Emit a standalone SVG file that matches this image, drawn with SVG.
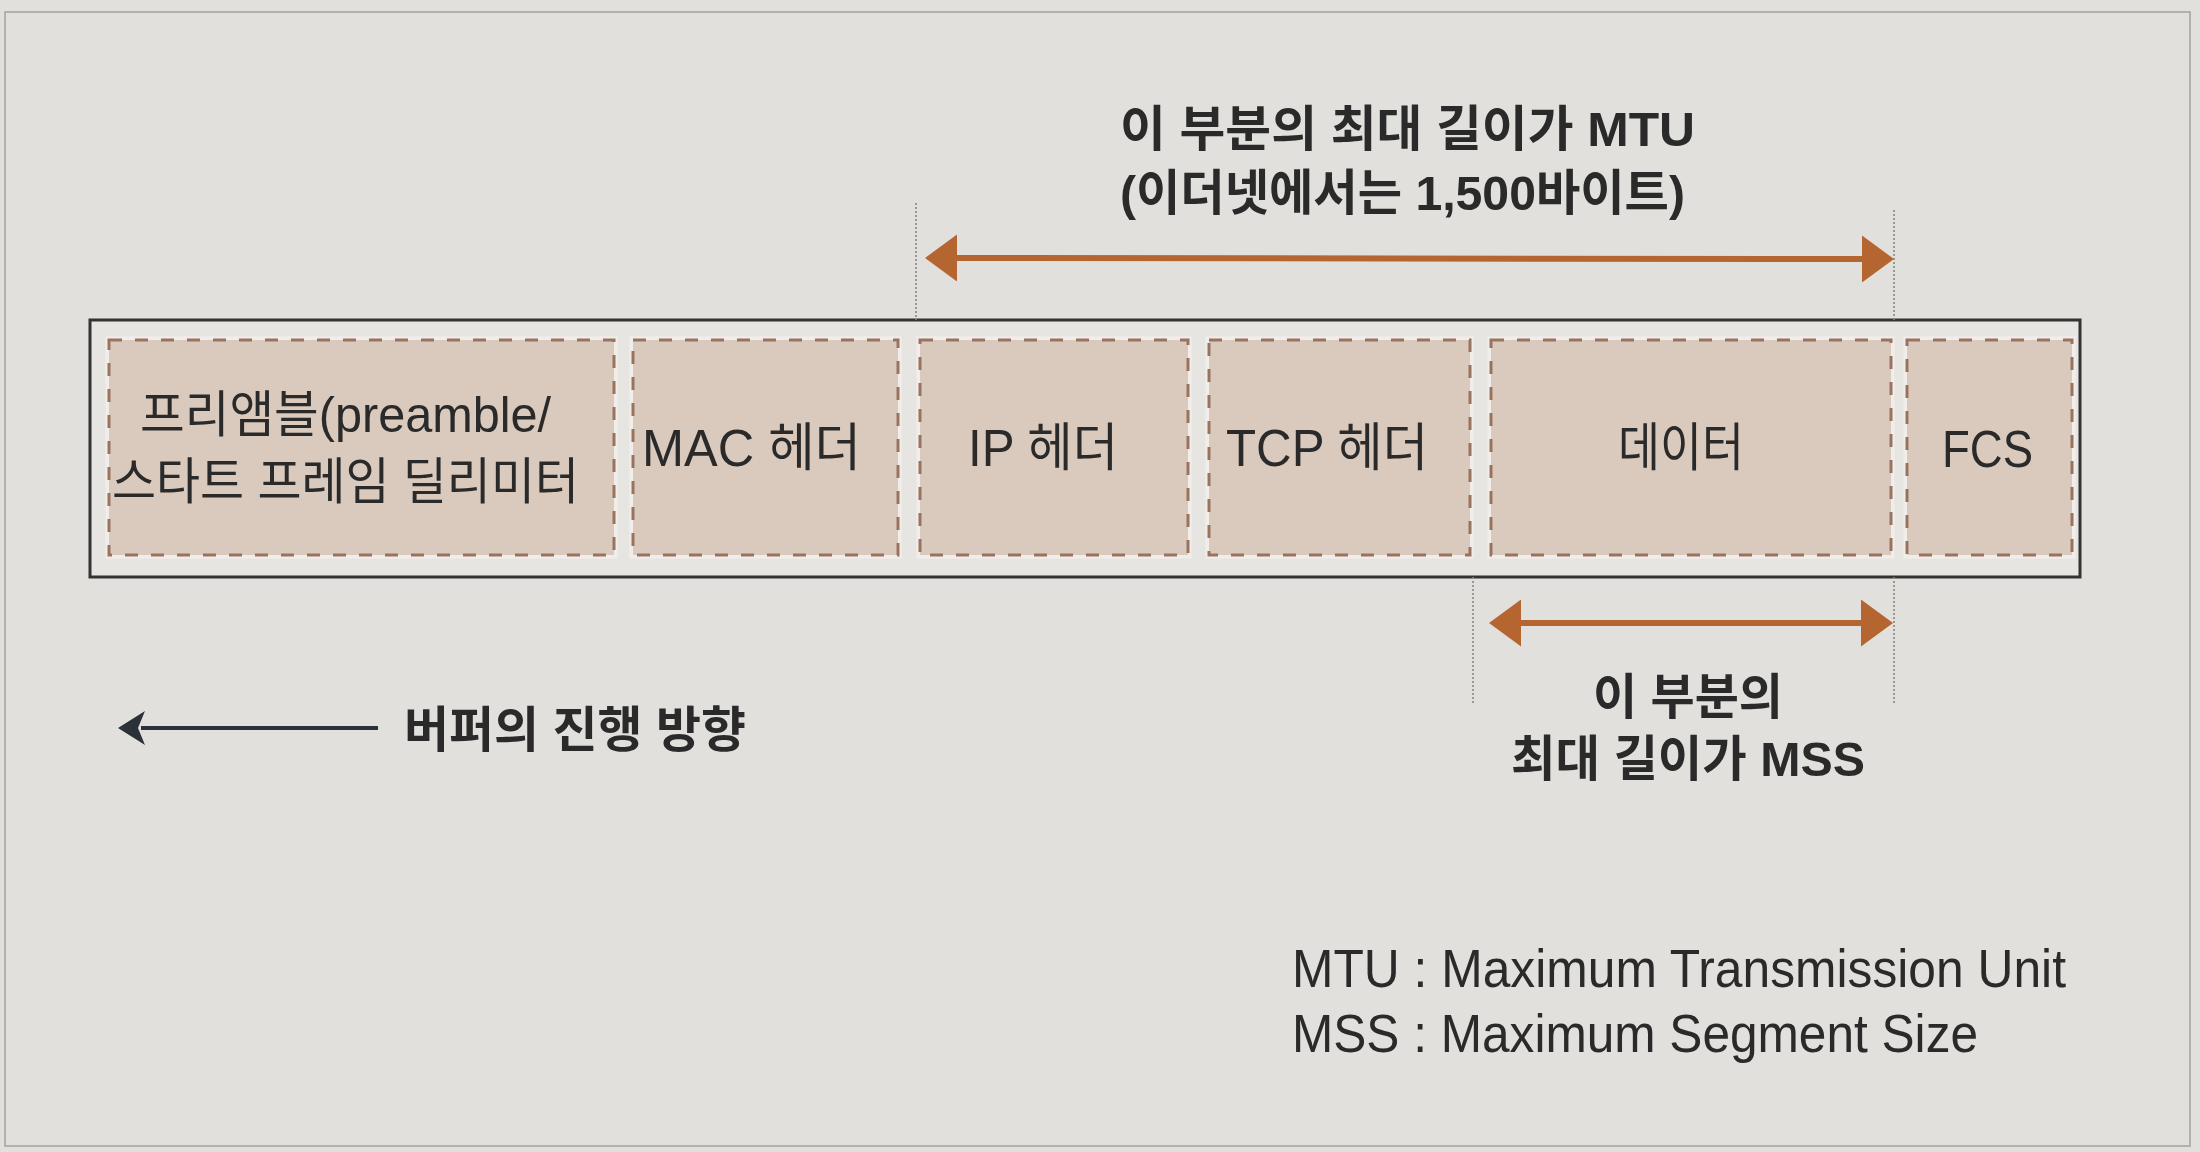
<svg xmlns="http://www.w3.org/2000/svg" width="2200" height="1152" viewBox="0 0 2200 1152">
  <style>
    text { font-family: "Liberation Sans", "Noto Sans CJK KR", sans-serif; fill: #2a2a2a; }
    .lbl { font-size: 52px; }
    .pre { font-size: 50px; }
    .bold { font-size: 49px; font-weight: bold; }
    .legend { font-size: 53px; }
    .seg { fill: #dacabd; stroke: #9a7260; stroke-width: 3; stroke-dasharray: 13 13; }
    .halo { fill: none; stroke: #f1eeea; stroke-width: 7; }
    .guide { stroke: #8a8682; stroke-width: 1.6; stroke-dasharray: 2 2; fill: none; }
    .dim { stroke: #b5652f; stroke-width: 6; fill: none; }
  </style>
  <defs>
    <marker id="headO" markerUnits="userSpaceOnUse" markerWidth="33" markerHeight="47" refX="1" refY="23.5" orient="auto-start-reverse">
      <path d="M0,0 L32,23.5 L0,47 z" fill="#b5652f"/>
    </marker>
    <marker id="headD" markerUnits="userSpaceOnUse" markerWidth="30" markerHeight="34" refX="4" refY="17" orient="auto">
      <path d="M0,0 L27,17 L0,34 L7,17 z" fill="#2c3038"/>
    </marker>
  </defs>

  <rect x="0" y="0" width="2200" height="1152" fill="#e2e0dd"/>
  <rect x="5" y="12" width="2185" height="1134" fill="none" stroke="#a7a09a" stroke-width="1.5"/>

  <g id="frame">
    <rect x="90" y="320" width="1990" height="257" fill="#e7e5e2" stroke="#333333" stroke-width="3"/>
  </g>

  <g id="preamble">
    <rect class="halo" x="109" y="340" width="505" height="215"/>
    <rect class="seg" x="109" y="340" width="505" height="215"/>
    <text class="pre" x="140" y="432" textLength="411" lengthAdjust="spacingAndGlyphs">프리앰블(preamble/</text>
    <text class="pre" x="112" y="499" textLength="467" lengthAdjust="spacingAndGlyphs">스타트 프레임 딜리미터</text>
  </g>
  <g id="mac">
    <rect class="halo" x="633" y="340" width="265" height="215"/>
    <rect class="seg" x="633" y="340" width="265" height="215"/>
    <text class="lbl" x="642" y="466" textLength="219" lengthAdjust="spacingAndGlyphs">MAC 헤더</text>
  </g>
  <g id="ip">
    <rect class="halo" x="920" y="340" width="268" height="215"/>
    <rect class="seg" x="920" y="340" width="268" height="215"/>
    <text class="lbl" x="968" y="466" textLength="150" lengthAdjust="spacingAndGlyphs">IP 헤더</text>
  </g>
  <g id="tcp">
    <rect class="halo" x="1209" y="340" width="261" height="215"/>
    <rect class="seg" x="1209" y="340" width="261" height="215"/>
    <text class="lbl" x="1226" y="466" textLength="202" lengthAdjust="spacingAndGlyphs">TCP 헤더</text>
  </g>
  <g id="data">
    <rect class="halo" x="1491" y="340" width="400" height="215"/>
    <rect class="seg" x="1491" y="340" width="400" height="215"/>
    <text class="lbl" x="1618" y="466" textLength="126" lengthAdjust="spacingAndGlyphs">데이터</text>
  </g>
  <g id="fcs">
    <rect class="halo" x="1907" y="340" width="165" height="215"/>
    <rect class="seg" x="1907" y="340" width="165" height="215"/>
    <text class="lbl" x="1942" y="467" textLength="91" lengthAdjust="spacingAndGlyphs">FCS</text>
  </g>

  <g id="connectors">
    <line class="guide" x1="916" y1="203" x2="916" y2="320"/>
    <line class="guide" x1="1894" y1="210" x2="1894" y2="320"/>
    <line class="guide" x1="1473" y1="577" x2="1473" y2="705"/>
    <line class="guide" x1="1894" y1="577" x2="1894" y2="705"/>
    <line class="dim" x1="956" y1="258" x2="1863" y2="259" marker-start="url(#headO)" marker-end="url(#headO)"/>
    <line class="dim" x1="1520" y1="623" x2="1862" y2="623" marker-start="url(#headO)" marker-end="url(#headO)"/>
    <line x1="378" y1="728" x2="141" y2="728" stroke="#2c3038" stroke-width="4" marker-end="url(#headD)"/>
  </g>

  <g id="mtu-label">
    <text class="bold" x="1120" y="146" textLength="575" lengthAdjust="spacingAndGlyphs">이 부분의 최대 길이가 MTU</text>
    <text class="bold" x="1120" y="210" textLength="565" lengthAdjust="spacingAndGlyphs">(이더넷에서는 1,500바이트)</text>
  </g>
  <g id="mss-label">
    <text class="bold" x="1593" y="714" textLength="190" lengthAdjust="spacingAndGlyphs">이 부분의</text>
    <text class="bold" x="1511" y="776" textLength="354" lengthAdjust="spacingAndGlyphs">최대 길이가 MSS</text>
  </g>
  <g id="buffer-label">
    <text class="bold" x="404" y="747" textLength="342" lengthAdjust="spacingAndGlyphs">버퍼의 진행 방향</text>
  </g>
  <g id="legend">
    <text class="legend" x="1292" y="987" textLength="774" lengthAdjust="spacingAndGlyphs">MTU : Maximum Transmission Unit</text>
    <text class="legend" x="1292" y="1052" textLength="686" lengthAdjust="spacingAndGlyphs">MSS : Maximum Segment Size</text>
  </g>
</svg>
